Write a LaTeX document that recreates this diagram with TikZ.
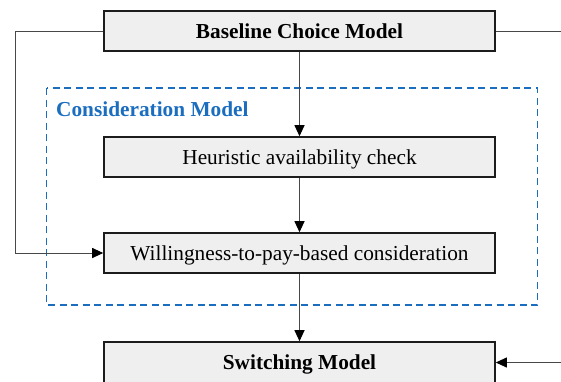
\documentclass[tikz,border=0pt]{standalone}
\usepackage{fontspec}
\setmainfont{Liberation Serif}
\usetikzlibrary{arrows.meta}
\definecolor{boxfill}{HTML}{EFEFEF}
\definecolor{boxline}{HTML}{1C1C1C}
\definecolor{linkgray}{HTML}{484848}
\definecolor{modelblue}{HTML}{1A6DBF}
\tikzset{
  stage/.style={draw=boxline, line width=1.6pt, fill=boxfill,
    minimum width=391pt, minimum height=40pt, inner sep=0pt,
    text height=14pt, text depth=0pt,
    font=\fontsize{21.3}{24}\selectfont},
  headstage/.style={stage, font=\fontsize{21.3}{24}\selectfont\bfseries},
  link/.style={draw=linkgray, line width=1pt,
    -{Triangle[length=11pt,width=10pt,color=black]}},
  plainlink/.style={draw=linkgray, line width=1pt},
  groupframe/.style={draw=modelblue, line width=1.5pt, dash pattern=on 7pt off 4.5pt}
}
\begin{document}
\begin{tikzpicture}[x=1pt,y=-1pt]
  \useasboundingbox (0,0) rectangle (561,381);

  % consideration group frame and its title
  \draw[groupframe] (46.5,88) rectangle (537.5,305);
  \node[anchor=base west, inner sep=0pt, text=modelblue,
        font=\fontsize{21.3}{24}\selectfont\bfseries] (grouptitle) at (56,116.5) {Consideration Model};

  % model stages
  \node[headstage] (base) at (299.5,31) {Baseline Choice Model};
  \node[stage] (heur) at (299.5,157) {Heuristic availability check};
  \node[stage] (wtp) at (299.5,253) {Willingness-to-pay-based consideration};
  \node[headstage, minimum height=41pt] (switch) at (299.5,362.5) {Switching Model};

  % free ends at the picture edges
  \coordinate (outR) at (561,31);
  \coordinate (inR) at (561,362.5);
  \coordinate (leftTop) at (15,31);
  \coordinate (leftBot) at (15,253);

  % main flow
  \draw[link] (base) -- (heur);
  \draw[link] (heur) -- (wtp);
  \draw[link] (wtp) -- (switch);

  % bypass on the left and links on the right
  \draw[link] (base.west) -- (leftTop) -- (leftBot) -- (wtp.west);
  \draw[plainlink] (base.east) -- (outR);
  \draw[link] (inR) -- (switch.east);
\end{tikzpicture}
\end{document}
